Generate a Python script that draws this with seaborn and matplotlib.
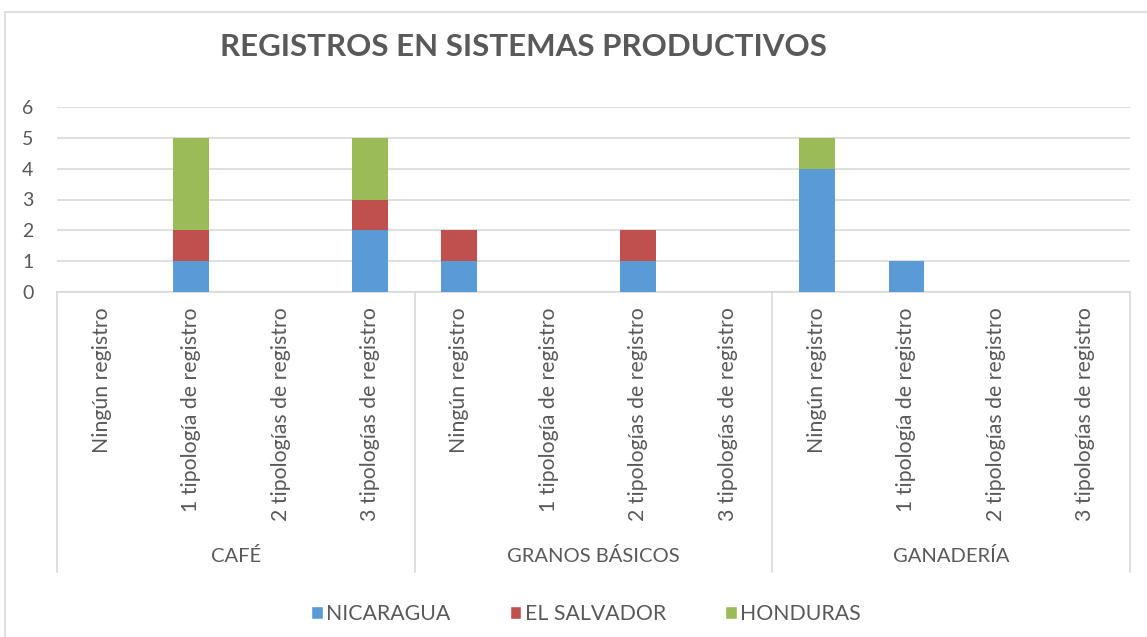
import seaborn as sns
import matplotlib.pyplot as plt
import pandas as pd
from matplotlib.patches import Patch, Rectangle

groups = ["CAFÉ", "GRANOS BÁSICOS", "GANADERÍA"]
tipos = ["Ningún registro", "1 tipología de registro", "2 tipologías de registro", "3 tipologías de registro"]
nicaragua = [0, 1, 0, 2, 1, 0, 1, 0, 4, 1, 0, 0]
el_salvador = [0, 1, 0, 1, 1, 0, 1, 0, 0, 0, 0, 0]
honduras = [0, 3, 0, 2, 0, 0, 0, 0, 1, 0, 0, 0]

colors = {"NICARAGUA": "#5b9bd5", "EL SALVADOR": "#c0504d", "HONDURAS": "#9bbb59"}
txt = "#595959"

sns.set_style("white")
plt.rcParams["font.family"] = ["Lato", "DejaVu Sans"]

df = pd.DataFrame({
    "pos": [str(i) for i in range(len(nicaragua))],
    "nic": nicaragua, "es": el_salvador, "hon": honduras,
})
df["nic_es"] = df["nic"] + df["es"]
df["total"] = df["nic_es"] + df["hon"]

W, H = 1147, 637
fig = plt.figure(figsize=(W / 100, H / 100), dpi=100)
ax = fig.add_axes([57 / W, 1 - 292 / H, (1130 - 57) / W, (292 - 107) / H])

# stacked by layering cumulative totals
kw = dict(width=0.4, saturation=1, ax=ax, zorder=3, linewidth=0)
sns.barplot(data=df, x="pos", y="total", color=colors["HONDURAS"], **kw)
sns.barplot(data=df, x="pos", y="nic_es", color=colors["EL SALVADOR"], **kw)
sns.barplot(data=df, x="pos", y="nic", color=colors["NICARAGUA"], **kw)

ax.set_ylim(0, 6)
ax.set_xlim(-0.5, 11.5)
ax.set_yticks(range(7))
ax.yaxis.grid(True, color="#d9d9d9", linewidth=1.2, zorder=0)
ax.set_axisbelow(True)
for s in ["top", "right", "left"]:
    ax.spines[s].set_visible(False)
ax.spines["bottom"].set_color("#d9d9d9")
ax.spines["bottom"].set_linewidth(1.2)
ax.tick_params(axis="y", length=0, labelsize=14, labelcolor=txt, pad=17)
ax.set_xticks([])
ax.set_xlabel("")
ax.set_ylabel("")

trans = ax.get_xaxis_transform()
y_top = -15 / 185
for i in range(12):
    ax.text(i, y_top, tipos[i % 4], rotation=90, ha="center", va="top",
            fontsize=15.3, color=txt, transform=trans)
for g, name in enumerate(groups):
    ax.text(g * 4 + 1.5, -(556 - 292) / 185, name, ha="center", va="center",
            fontsize=14.5, color=txt, transform=trans)
for b in [-0.5, 3.5, 7.5, 11.5]:
    ax.plot([b, b], [0, -(572 - 292) / 185], color="#d9d9d9", lw=1.2,
            transform=trans, clip_on=False)

fig.text(523 / W, 1 - 47 / H, "REGISTROS EN SISTEMAS PRODUCTIVOS", ha="center", va="center",
         fontsize=22.5, fontweight="bold", color=txt)

handles = [Patch(facecolor=c, label=k) for k, c in colors.items()]
fig.legend(handles=handles, loc="center", bbox_to_anchor=(586 / W, 1 - 614 / H), ncol=3,
           frameon=False, fontsize=15.3, labelcolor=txt, handlelength=0.55, handleheight=0.55,
           handletextpad=0.15, columnspacing=2.8)

fig.patches.append(Rectangle((5 / W, -0.1), 1.2, 1 - 12 / H + 0.1, transform=fig.transFigure,
                             fill=False, edgecolor="#d9d9d9", lw=1.2))

fig.savefig("out.png", dpi=100)
